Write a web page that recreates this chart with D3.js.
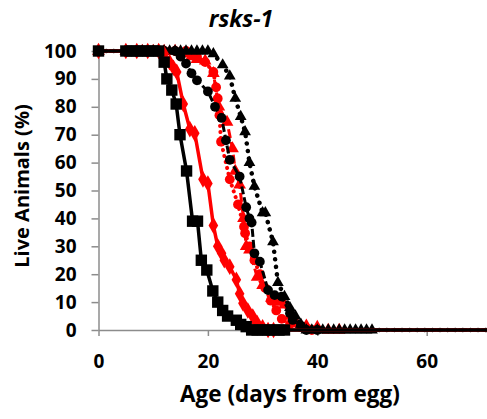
<!DOCTYPE html>
<html>
<head>
<meta charset="utf-8">
<script src="https://cdn.jsdelivr.net/npm/d3@7"></script>
<style>
  body { margin: 0; background: #fff; }
  text { font-family: "Open Sans", Lato, sans-serif; font-weight: bold; }
</style>
</head>
<body>
<div id="chart"></div>
<script>
// survival data: [day, % alive]
var blackSquares = [[0,100],[5,100],[6,100],[7,100],[8,100],[9,100],[10,100],[11,100],[12,96],[12.5,90],[13.4,86],[14.2,81],[14.9,70],[16.1,57],[17.2,39],[18.1,39],[18.8,25],[19.8,21.5],[20.9,14],[21.8,10],[22.7,7],[23.6,5],[25.2,3.5],[26,2],[27,1.2],[28,0],[29,0],[30,0],[31,0],[32,0],[33,0],[34,0]];
var redDiamonds = [[0,100],[5,100],[7,100],[9,100],[11,100],[12,99],[13,96],[13.7,94],[14.3,92.5],[15.5,81],[16.7,72],[17.6,70.5],[19.1,54],[20,52.5],[21,37.5],[21.8,30],[22.5,27.5],[23,25],[24,22.7],[25.2,18],[25.8,13],[26.4,9.6],[27.3,7],[28.2,4.8],[29,2.5],[30,1],[31,0],[32,0]];
var redTriangles = [[0,100],[5,100],[8,100],[10,100],[12,100],[14,100],[16,99],[17,98],[18,97],[19.5,96.5],[21,92],[22,80],[23.5,74.5],[24.5,65],[25,57],[25.8,52],[26.5,40],[27,30],[27.6,28.7],[29,19],[30,16],[31.6,11.4],[33,10],[34,9],[35,5],[36,3],[38,1.5],[40,1],[42,0],[44,0]];
var redCircles = [[0,100],[5,100],[8,100],[10,100],[12,100],[14,100],[16,100],[18,98],[19.5,96],[21,92.5],[21.5,87],[21.8,83],[22.1,77],[22.4,67.5],[24,54],[25.5,45],[26.6,37],[26.8,34.7],[27.6,30],[28.5,25],[29.5,20],[30.5,15],[31.5,10.5],[32.5,7],[33.5,4],[35,2],[37,1],[39,0]];
var blackCircles = [[0,100],[5,100],[8,100],[10,100],[12,100],[14,100],[15,98],[16,95.5],[17,92],[18,89.5],[20,85.5],[21.3,80],[22.5,76],[23.3,68],[24,61],[25.8,55],[27,44],[27.6,40],[28,38.5],[28.5,27.5],[29.5,24.5],[31,14.3],[32.2,12.5],[33.5,12],[35,6],[35.5,3.6],[37,1.5],[38,0],[40,0]];
var blackTriangles = [[0,100],[5,100],[8,100],[10,100],[12,100],[13,100],[14,100],[15,100],[16,100],[17,100],[18,100],[19,100],[20,100],[21,99],[22.7,95],[24,91],[25,83],[26,76.5],[26.8,71],[27.6,60],[28.5,51.5],[30,42],[30.5,42],[31.9,31.6],[32.8,17],[34,12],[35,8],[36,5],[37,2],[38,0],[39,0],[40,0],[41,0],[42,0],[43,0],[44,0],[45,0],[46,0],[47,0],[48,0],[49,0],[50,0]];

var xTicks = [0, 20, 40, 60];
var yTicks = d3.range(0, 101, 10);

var width = 487, height = 419;
var svg = d3.select("#chart").append("svg")
  .attr("width", width)
  .attr("height", height);

var x = d3.scaleLinear().domain([0, 80]).range([98.5, 98.5 + 80 * 5.47]);
var y = d3.scaleLinear().domain([0, 100]).range([330, 51]);
var xEnd = x.invert(width + 10);

// axes
var gx = svg.append("g")
  .attr("transform", "translate(0," + y(0) + ")")
  .call(d3.axisBottom(x).tickValues(xTicks).tickSize(6).tickSizeOuter(0).tickPadding(19));
var gy = svg.append("g")
  .attr("transform", "translate(" + x(0) + ",0)")
  .call(d3.axisLeft(y).tickValues(yTicks).tickSize(7).tickSizeOuter(0).tickPadding(15));

[gx, gy].forEach(function(g) {
  g.select(".domain").attr("stroke", "#8c8c8c").attr("stroke-width", 1.5);
  g.selectAll(".tick line").attr("stroke", "#8c8c8c").attr("stroke-width", 1.5);
  g.selectAll(".tick text").attr("fill", "#000").style("font-size", "19px").style("font-family", "'Open Sans', Lato, sans-serif").style("font-weight", "bold");
});

var line = d3.line()
  .x(function(d) { return x(d[0]); })
  .y(function(d) { return y(d[1]); });

var series = [
  {data: redTriangles, color: "#ff0000", dash: "9,4", width: 3, shape: d3.symbolTriangle, size: 70},
  {data: redCircles, color: "#ff0000", dash: "0.1,6", width: 4, shape: d3.symbolCircle, size: 75},
  {data: blackTriangles, color: "#000", dash: "0.1,7.5", width: 4.5, shape: d3.symbolTriangle, size: 60},
  {data: blackCircles, color: "#000", dash: "8,3", width: 3, shape: d3.symbolCircle, size: 75},
  {data: redDiamonds, color: "#ff0000", dash: null, width: 3.5, shape: d3.symbolDiamond, size: 80},
  {data: blackSquares, color: "#000", dash: null, width: 3.5, shape: d3.symbolSquare, size: 130}
];

var plot = svg.append("g");

series.forEach(function(s) {
  var pts = s.data.concat([[xEnd, 0]]);
  plot.append("path")
    .datum(pts)
    .attr("d", line)
    .attr("fill", "none")
    .attr("stroke", s.color)
    .attr("stroke-width", s.width)
    .attr("stroke-linecap", s.dash && s.dash.indexOf("0.1") === 0 ? "round" : "butt")
    .attr("stroke-dasharray", s.dash);

  plot.selectAll(null)
    .data(s.data)
    .enter().append("path")
    .attr("transform", function(d) { return "translate(" + x(d[0]) + "," + y(d[1]) + ")"; })
    .attr("d", d3.symbol().type(s.shape).size(s.size))
    .attr("fill", s.color);
});

// titles
svg.append("text")
  .attr("x", 241).attr("y", 27)
  .attr("text-anchor", "middle")
  .style("font-size", "23px")
  .style("font-style", "italic")
  .text("rsks-1");

svg.append("text")
  .attr("x", 290).attr("y", 402)
  .attr("text-anchor", "middle")
  .style("font-size", "22.5px")
  .text("Age (days from egg)");

svg.append("text")
  .attr("transform", "translate(29,186) rotate(-90)")
  .attr("text-anchor", "middle")
  .style("font-size", "20px")
  .text("Live Animals (%)");
</script>
</body>
</html>
